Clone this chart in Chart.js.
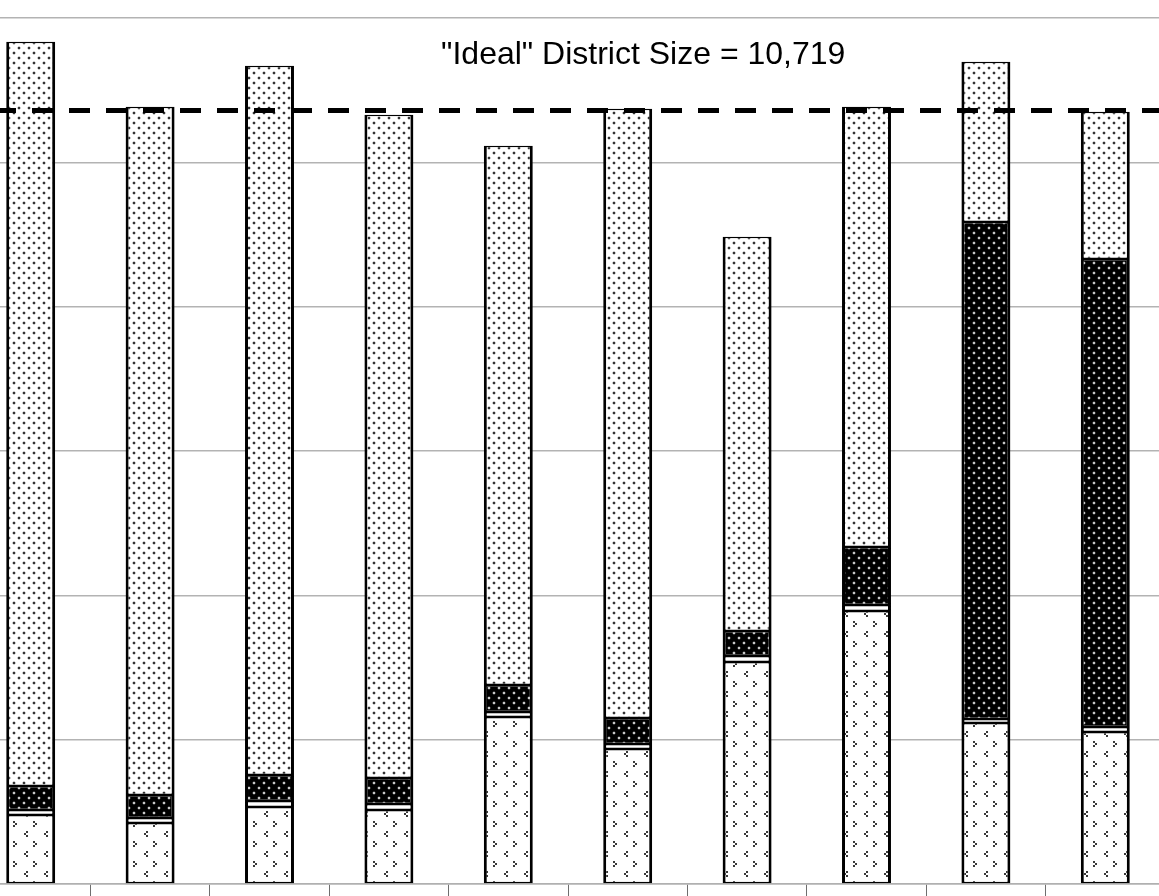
<!DOCTYPE html>
<html>
<head>
<meta charset="utf-8">
<script src="https://cdn.jsdelivr.net/npm/chart.js@4/dist/chart.umd.min.js"></script>
<style>
  html, body { margin: 0; padding: 0; background: #fff; overflow: hidden; }
  #wrap { position: absolute; left: -29px; top: 0; width: 1194px; height: 896px; }
</style>
</head>
<body>
<div id="wrap"><canvas id="districtChart" width="1194" height="896"></canvas></div>
<script>
// Districts (labels are off the visible part of the chart)
const districts = ['1', '2', '3', '4', '5', '6', '7', '8', '9', '10'];

// Population by group, bottom of the stack first
const hispanic = [956, 845, 1067, 1026, 2315, 1871, 3077, 3784, 2231, 2107];
const other    = [69, 69, 83, 83, 69, 69, 83, 83, 55, 69];
const black    = [333, 319, 360, 360, 374, 360, 347, 804, 6888, 6486];
const white    = [10312, 9536, 9828, 9190, 7471, 8442, 5461, 6098, 2219, 2038];

// Axis and reference line
const yMax = 12000;
const yStep = 2000;
const idealSize = 10719;
const idealLabel = '"Ideal" District Size = 10,719';

// Helper to build a small repeating fill pattern
function makePattern(w, h, bg, draw) {
    const c = document.createElement('canvas');
    c.width = w;
    c.height = h;
    const g = c.getContext('2d');
    g.fillStyle = bg;
    g.fillRect(0, 0, w, h);
    draw(g);
    return document.createElement('canvas').getContext('2d').createPattern(c, 'repeat');
}

// soft dot: dark 2x2 core with a lighter halo
function dot(g, x, y, core, halo) {
    g.fillStyle = halo;
    g.fillRect(x - 1, y, 4, 2);
    g.fillRect(x, y - 1, 2, 4);
    g.fillStyle = core;
    g.fillRect(x, y, 2, 2);
}

// light dotted fill (top segment)
const lightDots = makePattern(10, 10, '#ffffff', g => {
    dot(g, 2, 2, '#333', '#d0d0d0');
    dot(g, 7, 7, '#333', '#d0d0d0');
});

// black fill with light dots
const darkDots = makePattern(10, 10, '#000000', g => {
    dot(g, 2, 2, '#c8c8c8', '#2a2a2a');
    dot(g, 7, 7, '#c8c8c8', '#2a2a2a');
});

// sparse chevrons (bottom segment)
const chevrons = makePattern(20, 20, '#ffffff', g => {
    g.fillStyle = '#3a3a3a';
    // ">"
    [[2, 1], [4, 3], [2, 5]].forEach(p => g.fillRect(p[0], p[1], 2, 2));
    // "<"
    [[15, 11], [13, 13], [15, 15]].forEach(p => g.fillRect(p[0], p[1], 2, 2));
});

const barBorder = { top: 1.5, bottom: 1.5, left: 3, right: 3 };

function makeSeries(label, data, fill) {
    return {
        label: label,
        data: data,
        backgroundColor: fill,
        borderColor: '#000',
        borderWidth: barBorder,
        borderSkipped: false,
        categoryPercentage: 1.0,
        barPercentage: 0.41
    };
}

// Dashed "ideal" line and its caption
const idealLinePlugin = {
    id: 'idealLine',
    afterDatasetsDraw(chart) {
        const ctx = chart.ctx;
        const area = chart.chartArea;
        const y = chart.scales.y.getPixelForValue(idealSize);
        ctx.save();
        ctx.strokeStyle = '#000';
        ctx.lineWidth = 5;
        ctx.setLineDash([21, 16]);
        ctx.lineDashOffset = 13;
        ctx.beginPath();
        ctx.moveTo(area.left, y);
        ctx.lineTo(area.right, y);
        ctx.stroke();
        ctx.setLineDash([]);
        ctx.fillStyle = '#000';
        ctx.font = '32px "Liberation Sans", Arial, sans-serif';
        ctx.textAlign = 'center';
        ctx.textBaseline = 'alphabetic';
        ctx.fillText(idealLabel, area.left + area.width * 0.563, 64);
        ctx.restore();
    }
};

new Chart(document.getElementById('districtChart').getContext('2d'), {
    type: 'bar',
    data: {
        labels: districts,
        datasets: [
            makeSeries('Hispanic', hispanic, chevrons),
            makeSeries('Other', other, '#ffffff'),
            makeSeries('Black', black, darkDots),
            makeSeries('White', white, lightDots)
        ]
    },
    options: {
        responsive: false,
        animation: false,
        layout: { padding: { top: 18, left: 0, right: 0, bottom: 0 } },
        plugins: {
            legend: { display: false },
            tooltip: { enabled: false },
            title: { display: false }
        },
        scales: {
            x: {
                stacked: true,
                ticks: { display: false },
                grid: {
                    offset: true,
                    drawOnChartArea: false,
                    drawTicks: true,
                    tickLength: 12,
                    color: '#6e6e6e'
                },
                border: { display: true, color: '#b0b0b0', width: 1.5 }
            },
            y: {
                stacked: true,
                min: 0,
                max: yMax,
                ticks: { display: false, stepSize: yStep },
                grid: { drawTicks: false, color: '#b3b3b3', lineWidth: 1.5 },
                border: { display: false }
            }
        }
    },
    plugins: [idealLinePlugin]
});
</script>
</body>
</html>
